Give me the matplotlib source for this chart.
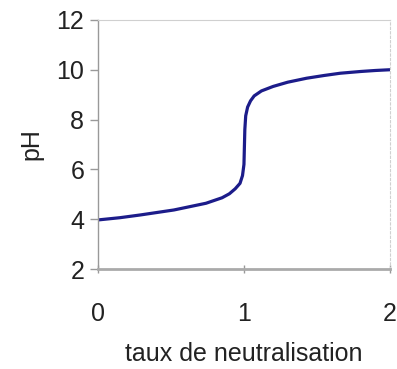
import matplotlib
matplotlib.use("Agg")
import matplotlib.pyplot as plt

plt.rcParams['font.family'] = ['Liberation Sans', 'DejaVu Sans']

# valeurs
taux = [0.0, 0.15, 0.29, 0.52, 0.74, 0.85, 0.90, 0.94, 0.973, 0.99, 1.0, 1.003,
        1.006, 1.012, 1.025, 1.045, 1.07, 1.12, 1.2, 1.3, 1.43, 1.55, 1.66, 1.8, 1.9, 2.0]
ph = [3.97, 4.06, 4.17, 4.37, 4.64, 4.86, 5.02, 5.22, 5.44, 5.75, 6.2, 6.9,
      7.6, 8.15, 8.5, 8.75, 8.95, 9.15, 9.33, 9.5, 9.66, 9.77, 9.86, 9.93, 9.97, 10.0]

fig = plt.figure(figsize=(3.97, 3.69), dpi=100)
ax = fig.add_axes([0.247, 0.271, 0.735, 0.675])

ax.plot(taux, ph, color='#1c1c8a', linewidth=2.3, solid_capstyle='round')

ax.set_xlim(0, 2)
ax.set_ylim(2, 12)
ax.set_xticks([0, 1, 2])
ax.set_yticks([2, 4, 6, 8, 10, 12])

ax.spines['left'].set_color('#999999')
ax.spines['left'].set_linewidth(1.0)
ax.spines['bottom'].set_color('#aaaaaa')
ax.spines['bottom'].set_linewidth(2.0)
ax.spines['top'].set_color('#d0d0d0')
ax.spines['top'].set_linewidth(0.8)
ax.spines['right'].set_color('#d0d0d0')
ax.spines['right'].set_linewidth(0.8)
ax.spines['right'].set_linestyle((0, (2, 2)))

ax.tick_params(axis='y', direction='out', length=6, width=1, color='#999999',
               labelsize=18, labelcolor='#222222', pad=4)
ax.tick_params(axis='x', direction='inout', length=6, width=1, color='#999999',
               labelsize=18, labelcolor='#222222', pad=21)

ax.set_ylabel('pH', fontsize=18, color='#222222', labelpad=9)
ax.set_xlabel('taux de neutralisation', fontsize=18, color='#222222', labelpad=11)

fig.savefig('out.png', dpi=100)
